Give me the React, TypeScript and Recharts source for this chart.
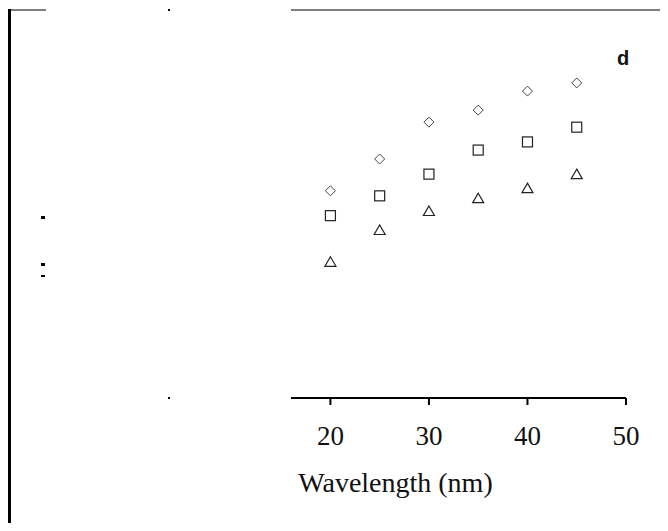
import { ScatterChart, Scatter, XAxis, YAxis } from 'recharts';

const wavelengths = [20, 25, 30, 35, 40, 45];
const diamondValues = [53.4, 61.6, 71.1, 74.2, 79.1, 81.2];
const squareValues = [47.0, 52.1, 57.7, 63.9, 66.0, 69.8];
const triangleValues = [35.1, 43.3, 48.2, 51.5, 54.1, 57.7];
const xTicks = [20, 30, 40, 50];

const toPoints = (vals: number[]) => wavelengths.map((x, i) => ({ x, y: vals[i] }));

const Diamond = (p: any) => (
  <path d={`M${p.cx},${p.cy - 5}L${p.cx + 5},${p.cy}L${p.cx},${p.cy + 5}L${p.cx - 5},${p.cy}Z`}
    fill="none" stroke="#444" strokeWidth={1} />
);
const Square = (p: any) => (
  <rect x={p.cx - 5} y={p.cy - 5} width={10} height={10} fill="none" stroke="#222" strokeWidth={1.2} />
);
const Triangle = (p: any) => (
  <path d={`M${p.cx},${p.cy - 5}L${p.cx + 5.5},${p.cy + 4.5}L${p.cx - 5.5},${p.cy + 4.5}Z`}
    fill="none" stroke="#222" strokeWidth={1.2} />
);

export default function App() {
  return (
    <div style={{ position: 'relative', width: 668, height: 531, margin: -8, background: '#fff', overflow: 'hidden' }}>
      <ScatterChart width={668} height={531} margin={{ top: 10, right: 42, bottom: 73, left: 291 }}>
        <XAxis type="number" dataKey="x" domain={[16, 50]} ticks={xTicks} height={60}
          axisLine={{ stroke: '#000', strokeWidth: 2 }} tickLine={{ stroke: '#000', strokeWidth: 2 }}
          tickSize={7} tickMargin={21}
          tick={{ fill: '#111', fontSize: 27, fontFamily: 'Liberation Serif' }}
          label={{ value: 'Wavelength (nm)', position: 'bottom', offset: 14, dx: -63, fill: '#111', fontSize: 28, fontFamily: 'Liberation Serif' }} />
        <YAxis type="number" dataKey="y" domain={[0, 100]} hide />
        <Scatter data={toPoints(diamondValues)} shape={Diamond} isAnimationActive={false} />
        <Scatter data={toPoints(squareValues)} shape={Square} isAnimationActive={false} />
        <Scatter data={toPoints(triangleValues)} shape={Triangle} isAnimationActive={false} />
      </ScatterChart>
      <svg width={668} height={531} style={{ position: 'absolute', left: 0, top: 0, pointerEvents: 'none' }}>
        <line x1={9.5} y1={9} x2={9.5} y2={531} stroke="#000" strokeWidth={3} />
        <line x1={9} y1={10} x2={46} y2={10} stroke="#000" strokeWidth={1.2} />
        <line x1={291} y1={10} x2={668} y2={10} stroke="#000" strokeWidth={1.2} />
        <rect x={168} y={9} width={2} height={2} fill="#000" />
        <rect x={168} y={397} width={2} height={2} fill="#000" />
        <rect x={41} y={216} width={4} height={3} fill="#000" />
        <rect x={41} y={263} width={4} height={3} fill="#000" />
        <rect x={41} y={275} width={4} height={2} fill="#000" />
        <text x={623} y={65} textAnchor="middle" fontFamily="Liberation Sans" fontWeight="bold" fontSize={20} fill="#111">d</text>
      </svg>
    </div>
  );
}
